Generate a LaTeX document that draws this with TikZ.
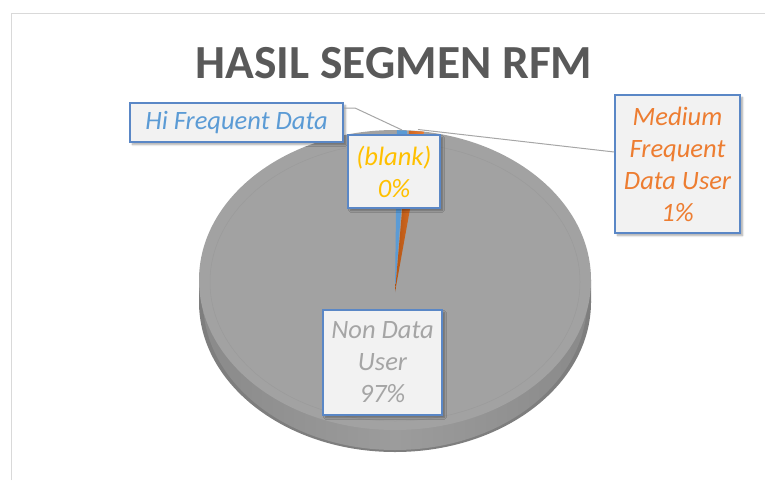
\documentclass[tikz,border=0pt]{standalone}
\usepackage{fontspec}
\setmainfont{Carlito}
\usetikzlibrary{shadows.blur}
\definecolor{frameline}{HTML}{D9D9D9}
\definecolor{titlegray}{HTML}{595959}
\definecolor{pietop}{HTML}{A2A2A2}
\definecolor{pieside}{HTML}{9C9C9C}
\definecolor{piesidedark}{HTML}{7E7E7E}
\definecolor{bevel}{HTML}{969696}
\definecolor{boxline}{HTML}{5A87C6}
\definecolor{boxfill}{HTML}{F2F2F2}
\definecolor{blueslice}{HTML}{5B9BD5}
\definecolor{orangeslice}{HTML}{ED7D31}
\definecolor{orangedark}{HTML}{B35413}
\definecolor{goldtext}{HTML}{FFC000}
\definecolor{graytext}{HTML}{A5A5A5}
\definecolor{leader}{HTML}{A6A6A6}
\tikzset{
  datalabel/.style={draw=boxline, line width=1.6pt, fill=boxfill,
    inner sep=0pt, align=center,
    font=\fontsize{26.5}{32}\selectfont\itshape,
    blur shadow={shadow xshift=2.5pt, shadow yshift=-2.5pt,
      shadow blur steps=6, shadow opacity=35}},
  leaderline/.style={draw=leader, line width=1pt}
}
\begin{document}
\begin{tikzpicture}[x=1pt,y=-1pt]
\useasboundingbox (0,0) rectangle (765,480);
% chart area frame
\draw[frameline, line width=1.6pt] (11.5,480) -- (11.5,13.5) -- (765,13.5);
% title
\node[text=titlegray, font=\fontsize{47.5}{56}\selectfont\bfseries] (title) at (394,63) {HASIL SEGMEN RFM};
% pie body: bottom face, side band, top face
\fill[piesidedark] (395,302) ellipse [x radius=196, y radius=150];
\shade[left color=piesidedark, right color=piesidedark, middle color=pieside]
  (199,280) rectangle (591,302);
\shade[left color=piesidedark!60!pieside, right color=piesidedark!60!pieside, middle color=pieside]
  (395,301) ellipse [x radius=192, y radius=149];
\fill[pietop] (395,280) ellipse [x radius=196, y radius=150];
\draw[bevel, line width=0.5pt, opacity=0.6] (395,282) ellipse [x radius=185, y radius=139];
% small slices
\coordinate (tip) at (395,292);
\coordinate (b1) at (397,130.2);
\coordinate (b2) at (407,130.6);
\coordinate (o1) at (409,130.8);
\coordinate (o2) at (424,131.6);
\fill[blueslice] (tip) -- (b1) -- (b2) -- cycle;
\shade[left color=orangedark, right color=orangeslice] (tip) -- (o1) -- (o2) -- cycle;
% data labels
\node[datalabel, text=blueslice, minimum width=213pt, minimum height=39pt] (hi) at (236.5,122.5) {Hi Frequent Data};
\node[datalabel, text=goldtext, minimum width=92pt, minimum height=73pt] (blank) at (394,171.5) {(blank)\\0\%};
\node[datalabel, text=orangeslice, minimum width=125pt, minimum height=138pt] (medium) at (677.5,164) {Medium\\Frequent\\Data User\\1\%};
\node[datalabel, text=graytext, minimum width=119pt, minimum height=105pt] (nondata) at (382.5,362.5) {Non Data\\User\\97\%};
% leader lines
\coordinate (hielbow) at (355,108);
\coordinate (hiend) at (402,130);
\coordinate (medend) at (418,129.5);
\draw[leaderline] ([yshift=14.5pt]hi.east) -- (hielbow) -- (hiend);
\draw[leaderline] ([yshift=12pt]medium.west) -- (medend);
\end{tikzpicture}
\end{document}
